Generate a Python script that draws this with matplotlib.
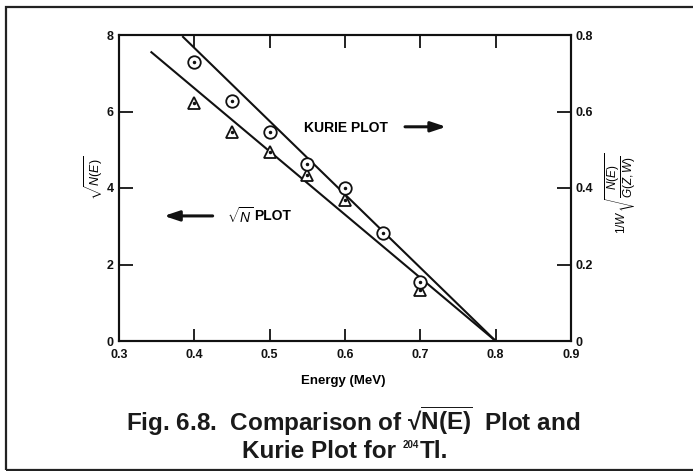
import matplotlib
matplotlib.use("Agg")
import matplotlib.pyplot as plt
from matplotlib.patches import Rectangle

plt.rcParams['font.family'] = ['Liberation Sans', 'DejaVu Sans']
plt.rcParams['mathtext.fontset'] = 'custom'
plt.rcParams['mathtext.rm'] = 'Liberation Sans'
plt.rcParams['mathtext.it'] = 'Liberation Sans:italic'
plt.rcParams['mathtext.bf'] = 'Liberation Sans:bold'

# ---- data ----
energy_kurie = [0.40, 0.45, 0.50, 0.55, 0.60, 0.65, 0.70]
kurie_vals = [0.730, 0.628, 0.546, 0.463, 0.401, 0.282, 0.155]
energy_sqrtn = [0.40, 0.45, 0.50, 0.55, 0.60, 0.70]
sqrtn_vals = [6.21, 5.47, 4.95, 4.34, 3.69, 1.33]
kurie_fit_E = [0.385, 0.80]
kurie_fit = [0.795, 0.0]
sqrtn_fit_E = [0.343, 0.80]
sqrtn_fit = [7.55, 0.0]
xticks = [0.3, 0.4, 0.5, 0.6, 0.7, 0.8, 0.9]
yticks_left = [0, 2, 4, 6, 8]
yticks_right = [0, 0.2, 0.4, 0.6, 0.8]

W, H = 693, 471
fig = plt.figure(figsize=(W / 100, H / 100), dpi=100)
ax = fig.add_axes([119 / W, 1 - 341 / H, (571 - 119) / W, (341 - 35) / H])
ax2 = ax.twinx()

ax.set_xlim(0.3, 0.9)
ax.set_ylim(0, 8)
ax2.set_ylim(0, 0.8)

lw = 1.5
ink = '#111111'
ax.plot(sqrtn_fit_E, sqrtn_fit, color=ink, lw=lw)
ax2.plot(kurie_fit_E, kurie_fit, color=ink, lw=lw)

ax.plot(energy_sqrtn, sqrtn_vals, linestyle='none', marker='^', ms=9,
        mfc='white', mec=ink, mew=1.3, zorder=3)
ax.plot(energy_sqrtn, sqrtn_vals, linestyle='none', marker='o', ms=1.5,
        mfc=ink, mec=ink, zorder=4)
ax2.plot(energy_kurie, kurie_vals, linestyle='none', marker='o', ms=9,
         mfc='white', mec=ink, mew=1.3, zorder=3)
ax2.plot(energy_kurie, kurie_vals, linestyle='none', marker='o', ms=1.5,
         mfc=ink, mec=ink, zorder=4)

for a in (ax, ax2):
    for s in a.spines.values():
        s.set_linewidth(1.5)
        s.set_color(ink)

tick_font = dict(fontsize=9, fontweight='bold')
ax.set_xticks(xticks)
ax.set_xticklabels([f'{v:.1f}' for v in xticks], **tick_font)
ax.set_yticks(yticks_left)
ax.set_yticklabels([str(v) for v in yticks_left], **tick_font)
ax2.set_yticks(yticks_right)
ax2.set_yticklabels(['0' if v == 0 else f'{v:.1f}' for v in yticks_right], **tick_font)

ax.tick_params(axis='x', direction='in', length=9, width=1.3, top=True, pad=6, colors=ink)
ax.tick_params(axis='y', direction='in', length=10, width=1.3, pad=4, colors=ink)
ax2.tick_params(axis='y', direction='in', length=10, width=1.3, pad=3, colors=ink)

ax.set_xlabel('Energy (MeV)', fontsize=9.5, fontweight='bold', labelpad=10, x=0.496)

fig.text(94 / W, 1 - 178 / H, r'$\sqrt{N(E)}$', rotation=90, fontsize=9,
         ha='center', va='center')
fig.text(621 / W, 1 - 193 / H, r'$1/W\,\sqrt{\dfrac{N(E)}{G(Z,W)}}$', rotation=90,
         fontsize=8.5, ha='center', va='center')

# annotations
ax.text(0.6015, 5.57, 'KURIE PLOT', fontsize=10, fontweight='bold', ha='center', va='center')
ax.annotate('', xy=(0.738, 5.60), xytext=(0.676, 5.60),
            arrowprops=dict(arrowstyle='-|>,head_length=0.9,head_width=0.3', lw=2.2, color=ink))
ax.annotate('', xy=(0.356, 3.27), xytext=(0.428, 3.27),
            arrowprops=dict(arrowstyle='-|>,head_length=0.9,head_width=0.3', lw=2.2, color=ink))
ax.text(0.4435, 3.27, r'$\sqrt{N}$', fontsize=10, ha='left', va='center')
ax.text(0.4795, 3.27, 'PLOT', fontsize=10, fontweight='bold', ha='left', va='center')

# caption
cap = dict(fontweight='bold', color='#1a1a1a')
fig.text(353 / W, 1 - 421 / H,
         r'Fig. 6.8.  Comparison of √$\mathbf{\overline{N(E)}}$  Plot and',
         fontsize=17.5, ha='center', va='center', **cap)

# second caption line built from pieces so the superscript can be small
renderer = fig.canvas.get_renderer()
base_y = 1 - 458 / H
pieces = [('Kurie Plot for ', 17.5, 0.0), ('204', 7, 10.0), ('Tl.', 17.5, 0.0)]
objs = []
for s, fs, dy in pieces:
    t = fig.text(0, base_y + dy / H, s, fontsize=fs, ha='left', va='baseline', **cap)
    objs.append(t)
widths = [o.get_window_extent(renderer).width for o in objs]
x = 345 - sum(widths) / 2
for o, w in zip(objs, widths):
    o.set_x(x / W)
    x += w

# frame
fig.patches.append(Rectangle((5.5 / W, 1 - 469.5 / H), 2.0, (469.5 - 7) / H,
                             transform=fig.transFigure, fill=False, lw=1.6,
                             edgecolor='#222222'))

fig.savefig('out.png', dpi=100)
